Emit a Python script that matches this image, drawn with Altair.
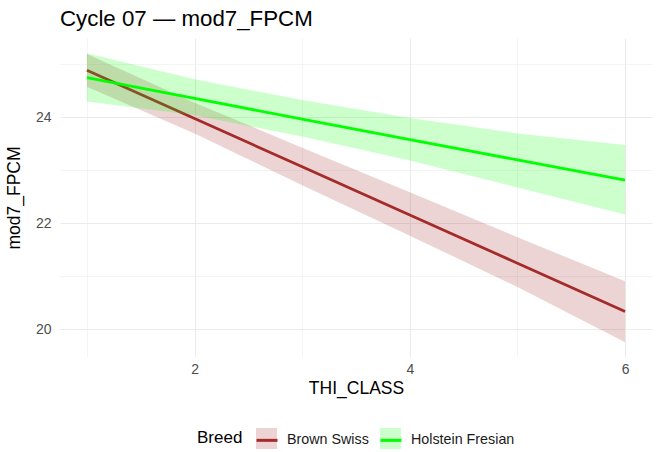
import altair as alt
import pandas as pd

# Fitted FPCM by THI class with confidence bands, per breed
thi = [1, 2, 3, 4, 5, 6]
breeds = ["Brown Swiss", "Holstein Fresian"]
line_colors = ["#a52a2a", "#00ff00"]

bs_fit = [24.89, 23.98, 23.07, 22.16, 21.25, 20.34]
bs_lo = [24.58, 23.70, 22.72, 21.77, 20.80, 19.76]
bs_hi = [25.20, 24.28, 23.43, 22.59, 21.74, 20.91]

hf_fit = [24.75, 24.36, 23.97, 23.58, 23.20, 22.82]
hf_lo = [24.30, 24.04, 23.64, 23.19, 22.68, 22.17]
hf_hi = [25.21, 24.72, 24.33, 23.99, 23.70, 23.48]

x_ticks = [1, 2, 3, 4, 5, 6]
y_ticks = [20, 21, 22, 23, 24, 25]

series = {
    "Brown Swiss": (bs_fit, bs_lo, bs_hi),
    "Holstein Fresian": (hf_fit, hf_lo, hf_hi),
}
rows = []
for breed, (fit, lo, hi) in series.items():
    for x, f, l, h in zip(thi, fit, lo, hi):
        rows.append({"THI_CLASS": x, "Breed": breed, "fit": f, "lo": l, "hi": h})
df = pd.DataFrame(rows)

FONT = "Liberation Sans"

# major grid lines on even values, thinner minor lines between them
major_minor_width = {"condition": {"test": "datum.value % 2 === 0", "value": 1.1}, "value": 0.55}

x_enc = alt.X(
    "THI_CLASS:Q",
    title="THI_CLASS",
    scale=alt.Scale(domain=[0.75, 6.25], nice=False, zero=False),
    axis=alt.Axis(
        values=x_ticks,
        labelExpr="datum.value % 2 === 0 ? datum.label : ''",
        gridWidth=major_minor_width,
        labelPadding=5,
        titlePadding=3,
    ),
)

def y_enc(field):
    return alt.Y(
        f"{field}:Q",
        title="mod7_FPCM",
        scale=alt.Scale(domain=[19.48, 25.5], nice=False, zero=False),
        axis=alt.Axis(
            values=y_ticks,
            labelExpr="datum.value % 2 === 0 ? datum.label : ''",
            gridWidth=major_minor_width,
            labelPadding=9,
            titlePadding=12,
        ),
    )

legend_common = dict(
    orient="none",
    legendY=390,
    direction="horizontal",
    labelFont=FONT,
    labelOffset=8,
    symbolSize=441,
)

# Line keys with the legend title and labels
stroke_legend = alt.Legend(
    title="Breed",
    legendX=137,
    titleOrient="left",
    titleFontSize=17,
    titleFontWeight="normal",
    titleColor="#000000",
    titleFont=FONT,
    titlePadding=12,
    labelFontSize=14.3,
    labelColor="#1a1a1a",
    columnPadding=5,
    symbolType="stroke",
    symbolStrokeWidth=3,
    **legend_common,
)
# Pale band squares drawn underneath the line keys
fill_legend = alt.Legend(
    title=None,
    legendX=196,
    labelExpr="''",
    columnPadding=95,
    symbolType="square",
    symbolOpacity=0.2,
    symbolStrokeWidth=0,
    **legend_common,
)

base = alt.Chart(df)
layers = []
for breed in breeds:
    sub = base.transform_filter(alt.datum.Breed == breed)
    band = sub.mark_area(opacity=0.2).encode(
        x=x_enc,
        y=y_enc("lo"),
        y2="hi:Q",
        fill=alt.Fill("Breed:N", scale=alt.Scale(range=line_colors), legend=fill_legend),
    )
    line = sub.mark_line(strokeWidth=2.8).encode(
        x=x_enc,
        y=y_enc("fit"),
        stroke=alt.Stroke(
            "Breed:N",
            scale=alt.Scale(domain=breeds, range=line_colors),
            legend=stroke_legend,
        ),
    )
    layers += [band, line]

chart = (
    alt.layer(*layers)
    .properties(
        width=592,
        height=319,
        autosize="none",
        background="white",
        padding={"left": 60, "top": 38, "right": 6, "bottom": 95},
        title=alt.TitleParams(
            "Cycle 07 — mod7_FPCM",
            anchor="start",
            frame="group",
            fontSize=22.3,
            font=FONT,
            fontWeight="normal",
            color="#000000",
            offset=8,
        ),
    )
    .configure_view(stroke=None)
    .configure_axis(
        domain=False,
        ticks=False,
        gridColor="#ebebeb",
        labelColor="#4d4d4d",
        labelFontSize=14,
        labelFont=FONT,
        titleFont=FONT,
        titleFontSize=17.5,
        titleFontWeight="normal",
        titleColor="#000000",
    )
)

chart.save("out.html", embed_options={"renderer": "svg", "actions": False})
